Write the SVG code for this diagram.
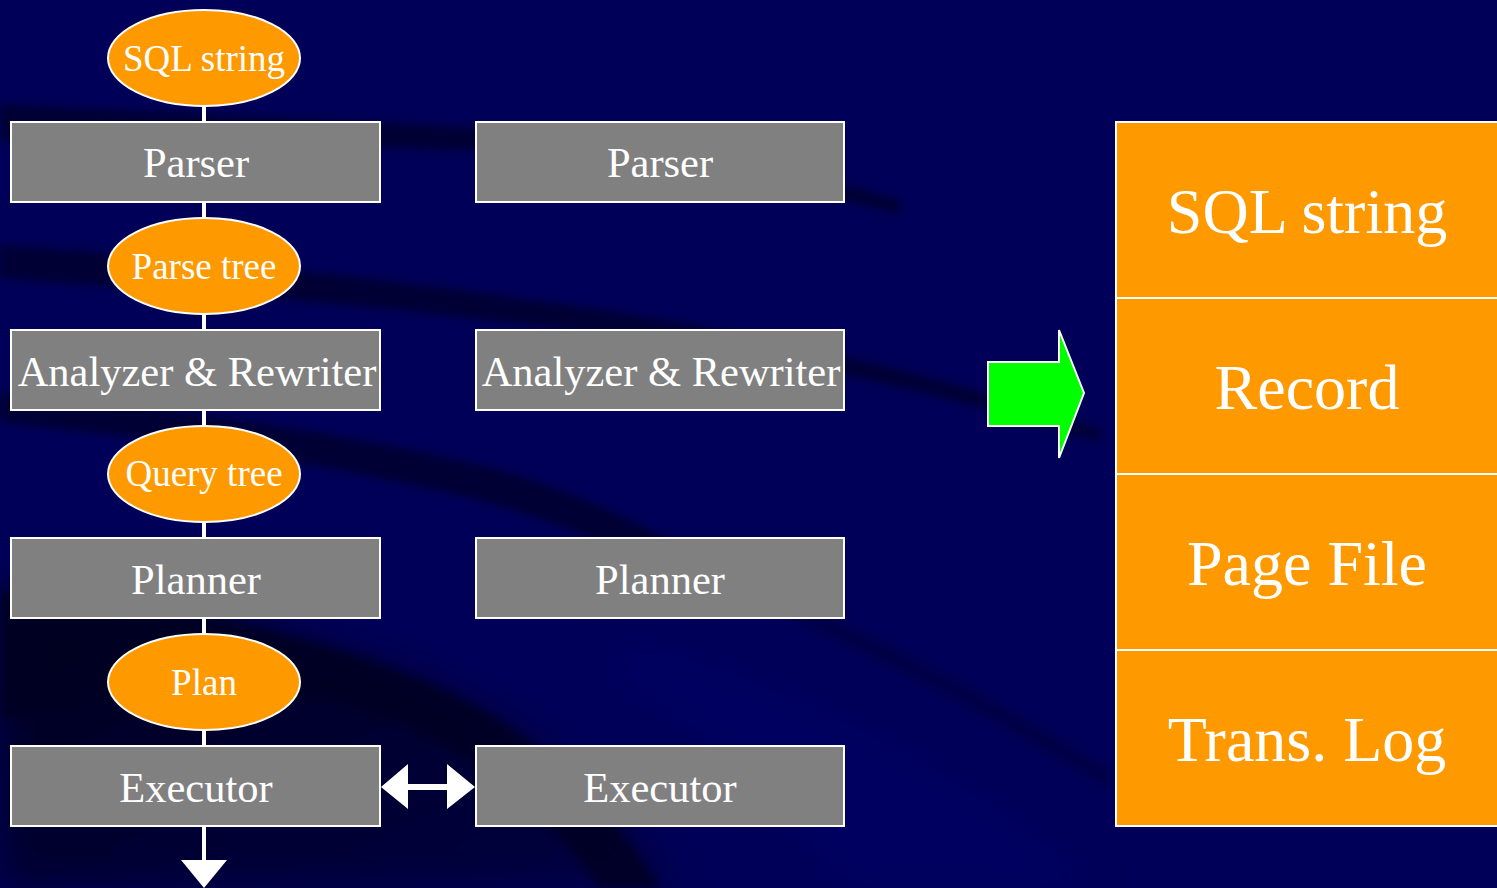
<svg xmlns="http://www.w3.org/2000/svg" width="1497" height="888" viewBox="0 0 1497 888">
<style>
.box{fill:#808080;stroke:#ffffff;stroke-width:2}
.ell{fill:#ff9900;stroke:#ffffff;stroke-width:2}
.cell{fill:#ff9900;stroke:#ffffff;stroke-width:2}
.t{font-family:"Liberation Serif","Times New Roman",serif;fill:#ffffff;text-anchor:middle}
.tb{font-size:42.5px}
.te{font-size:37px}
.tc{font-size:64px}
.wire{stroke:#ffffff;stroke-width:4;fill:none}
.head{fill:#ffffff}
</style>
<defs>
<filter id="blur" x="-20%" y="-20%" width="140%" height="140%"><feGaussianBlur stdDeviation="4"/></filter>
<filter id="blur2" x="-20%" y="-20%" width="140%" height="140%"><feGaussianBlur stdDeviation="18"/></filter>
<linearGradient id="dk" x1="0" y1="0" x2="1" y2="1">
<stop offset="0" stop-color="#000018"/>
<stop offset="1" stop-color="#000040"/>
</linearGradient>
</defs>
<g id="background">
<rect x="0" y="0" width="1497" height="888" fill="#000058"/>
<path d="M0,590 C150,600 300,630 420,680 C520,720 600,790 680,888 L0,888 Z" fill="url(#dk)" filter="url(#blur2)" opacity="0.9"/>
<path d="M0,590 C150,600 300,630 420,680 C520,720 600,790 660,888 L600,888 C540,800 450,730 330,700 C200,670 100,700 0,720 Z" fill="#000020" filter="url(#blur)" opacity="0.8"/>
<path d="M0,104 C150,112 300,118 450,126 C600,136 750,160 900,200 L900,214 C750,176 600,152 450,150 C300,144 150,142 0,140 Z" fill="#00002e" filter="url(#blur)" opacity="0.85"/>
<path d="M0,245 C200,258 400,280 600,310 C800,340 950,380 1100,430 L1100,442 C950,396 800,358 600,334 C400,306 200,292 0,278 Z" fill="#00002e" filter="url(#blur)" opacity="0.85"/>
<path d="M0,392 C200,410 380,440 500,470 C600,500 680,540 760,600 L740,610 C660,560 580,530 480,500 C360,470 180,440 0,422 Z" fill="#00002e" filter="url(#blur)" opacity="0.85"/>
<path d="M720,570 C850,620 980,690 1110,770 L1110,790 C980,710 850,640 720,590 Z" fill="#000040" filter="url(#blur)" opacity="0.7"/>
<path d="M620,640 C780,680 950,760 1100,888 L850,888 C780,800 700,720 620,680 Z" fill="#000068" filter="url(#blur2)" opacity="0.6"/>
</g>
<g id="connectors">
<line class="wire" x1="204" y1="106" x2="204" y2="862"/>
<polygon class="head" points="181,860 227,860 204,888"/>
<polygon class="head" points="381,787 408,764 408,784 447,784 447,764 475,787 447,809 447,790 408,790 408,809"/>
</g>
<g id="sql-string-ellipse"><ellipse class="ell" cx="204" cy="58" rx="96" ry="48"/><text class="t te" x="204" y="71">SQL string</text></g>
<g id="parser-left"><rect class="box" x="11" y="122" width="369" height="80"/><text class="t tb" x="196" y="177">Parser</text></g>
<g id="parse-tree"><ellipse class="ell" cx="204" cy="266" rx="96" ry="48"/><text class="t te" x="204" y="279">Parse tree</text></g>
<g id="analyzer-left"><rect class="box" x="11" y="330" width="369" height="80"/><text class="t tb" x="197" y="386">Analyzer &amp; Rewriter</text></g>
<g id="query-tree"><ellipse class="ell" cx="204" cy="474" rx="96" ry="48"/><text class="t te" x="204" y="486">Query tree</text></g>
<g id="planner-left"><rect class="box" x="11" y="538" width="369" height="80"/><text class="t tb" x="196" y="594">Planner</text></g>
<g id="plan"><ellipse class="ell" cx="204" cy="682" rx="96" ry="48"/><text class="t te" x="204" y="695">Plan</text></g>
<g id="executor-left"><rect class="box" x="11" y="746" width="369" height="80"/><text class="t tb" x="196" y="802">Executor</text></g>
<g id="parser-right"><rect class="box" x="476" y="122" width="368" height="80"/><text class="t tb" x="660" y="177">Parser</text></g>
<g id="analyzer-right"><rect class="box" x="476" y="330" width="368" height="80"/><text class="t tb" x="661" y="386">Analyzer &amp; Rewriter</text></g>
<g id="planner-right"><rect class="box" x="476" y="538" width="368" height="80"/><text class="t tb" x="660" y="594">Planner</text></g>
<g id="executor-right"><rect class="box" x="476" y="746" width="368" height="80"/><text class="t tb" x="660" y="802">Executor</text></g>
<g id="green-arrow"><polygon points="988,362 1059,362 1059,330 1084,393 1059,458 1059,426 988,426" fill="#00ff00" stroke="#ffffff" stroke-width="2"/></g>
<g id="stack">
<g id="cell-sql"><rect class="cell" x="1116" y="122" width="390" height="176"/><text class="t tc" x="1307" y="233">SQL string</text></g>
<g id="cell-record"><rect class="cell" x="1116" y="298" width="390" height="176"/><text class="t tc" x="1307" y="409">Record</text></g>
<g id="cell-page"><rect class="cell" x="1116" y="474" width="390" height="176"/><text class="t tc" x="1307" y="585">Page File</text></g>
<g id="cell-log"><rect class="cell" x="1116" y="650" width="390" height="176"/><text class="t tc" x="1307" y="761">Trans. Log</text></g>
</g>
</svg>
